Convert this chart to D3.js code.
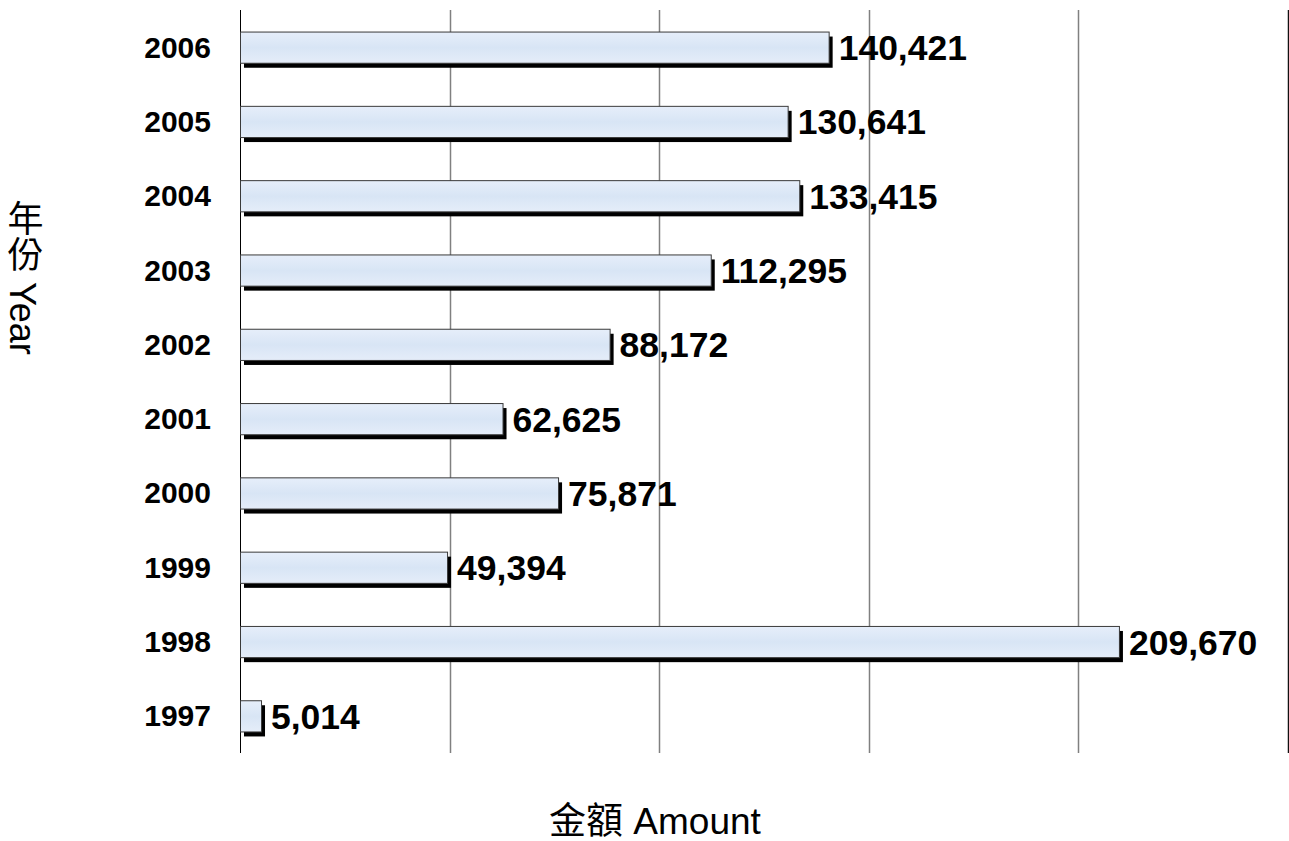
<!DOCTYPE html>
<html>
<head>
<meta charset="utf-8">
<script src="https://cdn.jsdelivr.net/npm/d3@7"></script>
<style>
  body { margin: 0; background: #fff; }
  svg { display: block; font-family: Arial, "Liberation Sans", sans-serif; }
</style>
</head>
<body>
<div id="chart"></div>
<script>
var years = ["2006", "2005", "2004", "2003", "2002", "2001", "2000", "1999", "1998", "1997"];
var amounts = [140421, 130641, 133415, 112295, 88172, 62625, 75871, 49394, 209670, 5014];
var xTicks = [0, 50000, 100000, 150000, 200000, 250000];

var width = 1289, height = 841;
var plotLeft = 240, plotRight = 1289, plotTop = 10, plotBottom = 753;

var svg = d3.select("#chart").append("svg")
    .attr("width", width)
    .attr("height", height);

var x = d3.scaleLinear().domain([0, 250000]).range([plotLeft, plotRight - 1]);
var y = d3.scaleBand().domain(years).range([plotTop, plotBottom]).paddingInner(0.58).paddingOuter(0.29);

var data = years.map(function(d, i) { return {year: d, value: amounts[i]}; });

// gridlines
svg.append("g").selectAll("line")
  .data(xTicks)
  .enter().append("line")
    .attr("x1", function(d) { return Math.round(x(d)) + 0.5; })
    .attr("x2", function(d) { return Math.round(x(d)) + 0.5; })
    .attr("y1", plotTop)
    .attr("y2", plotBottom)
    .attr("stroke", function(d, i) { return (i == 0) ? "#000" : (i == xTicks.length - 1 ? "#111" : "#808080"); })
    .attr("stroke-width", function(d, i) { return (i == 0) ? 1 : 1.5; });

// shadows
svg.append("g").selectAll("rect")
  .data(data)
  .enter().append("rect")
    .attr("x", x(0) + 4)
    .attr("y", function(d) { return y(d.year) + 5; })
    .attr("width", function(d) { return x(d.value) - x(0); })
    .attr("height", y.bandwidth())
    .attr("fill", "#000");

var grad = svg.append("defs").append("linearGradient")
    .attr("id", "barfill")
    .attr("x1", 0).attr("y1", 0).attr("x2", 0).attr("y2", 1);
grad.selectAll("stop")
  .data([{o: "0%", c: "#e6eefa"}, {o: "50%", c: "#d8e5f5"}, {o: "100%", c: "#e5edf9"}])
  .enter().append("stop")
    .attr("offset", function(d) { return d.o; })
    .attr("stop-color", function(d) { return d.c; });

// bars
svg.append("g").selectAll("rect")
  .data(data)
  .enter().append("rect")
    .attr("x", x(0) + 0.5)
    .attr("y", function(d) { return y(d.year) + 0.5; })
    .attr("width", function(d) { return x(d.value) - x(0); })
    .attr("height", y.bandwidth())
    .attr("fill", "url(#barfill)")
    .attr("stroke", "#3a3a3a")
    .attr("stroke-width", 1);

// value labels
svg.append("g").selectAll("text")
  .data(data)
  .enter().append("text")
    .attr("x", function(d) { return x(d.value) + 10; })
    .attr("y", function(d) { return y(d.year) + y.bandwidth() / 2 + 1; })
    .attr("dominant-baseline", "central")
    .style("font-size", "35.5px")
    .style("font-weight", "bold")
    .text(function(d) { return d3.format(",")(d.value); });

// year labels
svg.append("g").selectAll("text")
  .data(years)
  .enter().append("text")
    .attr("x", 211)
    .attr("y", function(d) { return y(d) + y.bandwidth() / 2; })
    .attr("text-anchor", "end")
    .attr("dominant-baseline", "central")
    .style("font-size", "30px")
    .style("font-weight", "bold")
    .text(function(d) { return d; });

// axis titles
svg.append("text")
  .attr("x", 655)
  .attr("y", 834)
  .attr("text-anchor", "middle")
  .style("font-size", "37px")
  .style("font-family", "Arial, 'Noto Sans CJK TC', sans-serif")
  .text("金額 Amount");

svg.append("text")
  .attr("x", 22)
  .attr("y", 200)
  .style("writing-mode", "vertical-rl")
  .style("font-size", "36px")
  .style("font-family", "Arial, 'Noto Sans CJK TC', sans-serif")
  .text("年份 Year");
</script>
</body>
</html>
